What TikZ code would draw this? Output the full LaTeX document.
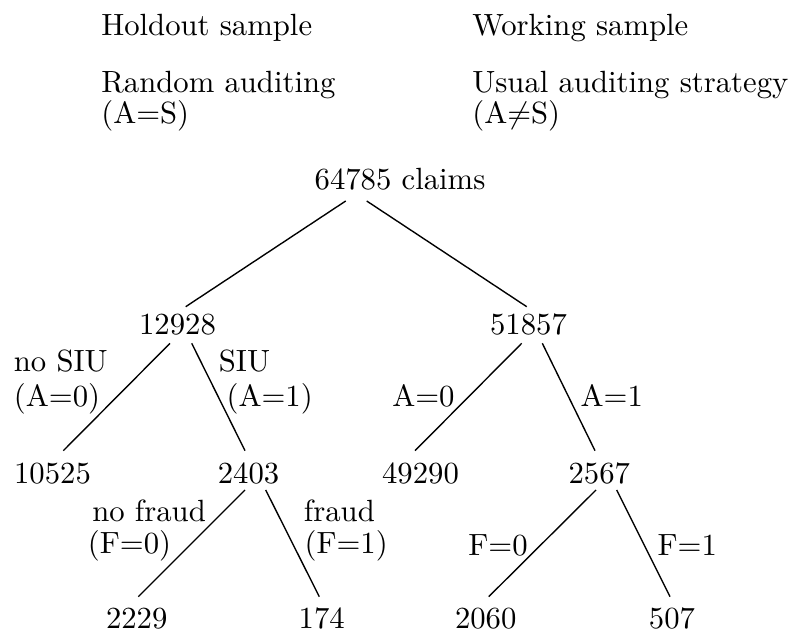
\documentclass[tikz,border=0pt]{standalone}
\begin{document}
\begin{tikzpicture}[x=0.32573pt,y=-0.32573pt,
  num/.style={anchor=base,inner sep=0pt},
  lab/.style={anchor=base west,inner sep=0pt},
  branch/.style={line width=0.45pt}]
\useasboundingbox (0,0) rectangle (792,630);
% headers
\node[lab] (hs) at (100.7,36) {Holdout sample};
\node[lab] (ws) at (471.7,36) {Working sample};
\node[lab] (ha) at (100.7,92.7) {Random auditing};
\node[lab] (hb) at (100.7,124) {(A=S)};
\node[lab] (wa) at (471.7,92.7) {Usual auditing strategy};
\node[lab] (wb) at (471.7,124) {(A$\neq$S)};
% tree nodes
\node[num] (root) at (400,190) {64785 claims};
\node[num] (h) at (177.5,334) {12928};
\node[num] (w) at (528.5,334) {51857};
\node[num] (h0) at (52.5,483.3) {10525};
\node[num] (h1) at (248.5,483.3) {2403};
\node[num] (w0) at (420.5,483.3) {49290};
\node[num] (w1) at (599.3,483.3) {2567};
\node[num] (h10) at (136.7,628) {2229};
\node[num] (h11) at (321.7,628) {174};
\node[num] (w10) at (485.7,628) {2060};
\node[num] (w11) at (672,628) {507};
% connectors
\draw[branch] ([shift={(-54.3,11)}]root.base) -- ([shift={(8.2,-27.3)}]h.base);
\draw[branch] ([shift={(-33.3,11)}]root.base) -- ([shift={(-1.8,-27.3)}]w.base);
\draw[branch] ([shift={(-7.5,9.3)}]h.base) -- ([shift={(10.8,-32.6)}]h0.base);
\draw[branch] ([shift={(14.2,9.3)}]h.base) -- ([shift={(-3.5,-32.6)}]h1.base);
\draw[branch] ([shift={(-6.8,9.3)}]w.base) -- ([shift={(-5.5,-32.6)}]w0.base);
\draw[branch] ([shift={(13.8,9.3)}]w.base) -- ([shift={(-4.3,-32.6)}]w1.base);
\draw[branch] ([shift={(-3.5,6.7)}]h1.base) -- ([shift={(1.6,-31.3)}]h10.base);
\draw[branch] ([shift={(17.2,6.7)}]h1.base) -- ([shift={(-2.4,-31.3)}]h11.base);
\draw[branch] ([shift={(-3.3,6.7)}]w1.base) -- ([shift={(3,-31.3)}]w10.base);
\draw[branch] ([shift={(17.4,6.7)}]w1.base) -- ([shift={(-2,-31.3)}]w11.base);
% branch labels
\node[lab] (l1a) at (13.3,371.7) {no SIU};
\node[lab] (l1b) at (13.3,406) {(A=0)};
\node[lab] (l2a) at (218.3,371.7) {SIU};
\node[lab] (l2b) at (226,406) {(A=1)};
\node[lab] (l3) at (391.7,406.7) {A=0};
\node[lab] (l4) at (580,406.7) {A=1};
\node[lab] (l5a) at (91.7,521.7) {no fraud};
\node[lab] (l5b) at (87.3,553.3) {(F=0)};
\node[lab] (l6a) at (303.3,521.7) {fraud};
\node[lab] (l6b) at (304,553.3) {(F=1)};
\node[lab] (l7) at (467.7,555) {F=0};
\node[lab] (l8) at (657,555) {F=1};
\end{tikzpicture}
\end{document}
